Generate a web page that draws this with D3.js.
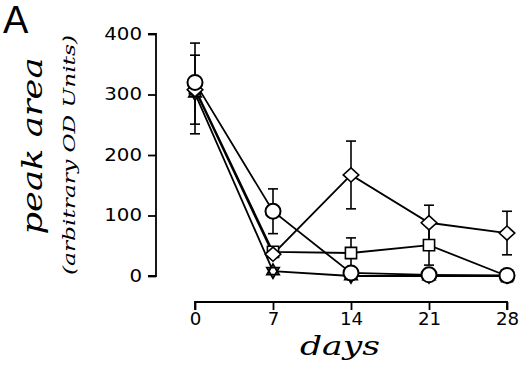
<!DOCTYPE html>
<html>
<head>
<meta charset="utf-8">
<script src="https://cdn.jsdelivr.net/npm/d3@7"></script>
<style>
  body { margin: 0; background: #fff; }
  svg { display: block; }
</style>
</head>
<body>
<div id="chart"></div>
<script>
// data
const days = [0, 7, 14, 21, 28];
const yTicks = [0, 100, 200, 300, 400];

const circleVals = [320, 107, 5, 2, 1];
const circleErr = [0, 37, 0, 10, 0];
const squareVals = [310, 40, 38, 51, 0];
const squareErr = [75, 0, 25, 33, 0];
const diamondVals = [308, 36, 167, 88, 71];
const diamondErr = [57, 0, 56, 29, 36];
const starVals = [302, 8, 0, 0, 0];
const starErr = [0, 0, 0, 0, 0];

const width = 520, height = 365;

const svg = d3.select("#chart")
    .append("svg")
    .attr("width", width)
    .attr("height", height);

// scales
const x = d3.scaleLinear().domain([0, 28]).range([195, 507]);
const y = d3.scaleLinear().domain([0, 400]).range([276, 34]);

const tickFont = "'DejaVu Sans', Verdana, sans-serif";

// y axis (offset from x axis)
svg.append("g")
    .attr("transform", "translate(156,0)")
    .call(d3.axisLeft(y).tickValues(yTicks).tickSize(8).tickPadding(6))
    .call(g => {
        g.select(".domain").attr("d", `M-8,${y(400)}H0V${y(0)}H-8`).attr("stroke-width", 1.8);
        g.selectAll(".tick line").attr("stroke-width", 1.8);
        g.selectAll(".tick text")
            .style("font-family", tickFont)
            .style("font-size", "17px")
            .attr("textLength", d => String(d).length * 12.6)
            .attr("lengthAdjust", "spacingAndGlyphs")
            .attr("fill", "#000");
    });

// x axis
svg.append("g")
    .attr("transform", "translate(0,302)")
    .call(d3.axisBottom(x).tickValues(days).tickSize(8).tickPadding(3))
    .call(g => {
        g.select(".domain").attr("d", `M${x(0)},8V0H${x(28)}V8`).attr("stroke-width", 1.8);
        g.selectAll(".tick line").attr("stroke-width", 1.8);
        g.selectAll(".tick text")
            .style("font-family", tickFont)
            .style("font-size", "17px")
            .attr("textLength", d => String(d).length * 11.6)
            .attr("lengthAdjust", "spacingAndGlyphs")
            .attr("fill", "#000");
    });

// six-pointed star (two triangles)
const hexagram = {
    draw(ctx, size) {
        const r = Math.sqrt(size) * 0.62;
        for (const rot of [0, Math.PI]) {
            for (let i = 0; i < 3; i++) {
                const a = rot - Math.PI / 2 + i * 2 * Math.PI / 3;
                const px = r * Math.cos(a), py = r * Math.sin(a);
                if (i === 0) ctx.moveTo(px, py); else ctx.lineTo(px, py);
            }
            ctx.closePath();
        }
    }
};

// diamond a little wider than d3's own
const wideDiamond = {
    draw(ctx, size) {
        const h = Math.sqrt(size) * 0.55;
        const w = h * 1.1;
        ctx.moveTo(0, -h);
        ctx.lineTo(w, 0);
        ctx.lineTo(0, h);
        ctx.lineTo(-w, 0);
        ctx.closePath();
    }
};

const series = [
    { vals: starVals, err: starErr, type: hexagram, size: 130, sw: 1.8 },
    { vals: squareVals, err: squareErr, type: d3.symbolSquare, size: 125, sw: 1.6 },
    { vals: diamondVals, err: diamondErr, type: wideDiamond, size: 165, sw: 1.6 },
    { vals: circleVals, err: circleErr, type: d3.symbolCircle, size: 177, sw: 2 }
];

const line = d3.line()
    .x((d, i) => x(days[i]))
    .y(d => y(d));

// connecting lines
series.forEach(s => {
    svg.append("path")
        .attr("d", line(s.vals))
        .attr("fill", "none")
        .attr("stroke", "#000")
        .attr("stroke-width", 1.8);
});

// error bars
series.forEach(s => {
    const g = svg.append("g").attr("stroke", "#000").attr("stroke-width", 1.6);
    s.vals.forEach((v, i) => {
        if (!s.err[i]) return;
        const cx = x(days[i]);
        const y1 = y(v + s.err[i]), y0 = y(Math.max(0, v - s.err[i]));
        g.append("line").attr("x1", cx).attr("x2", cx).attr("y1", y1).attr("y2", y0);
        g.append("line").attr("x1", cx - 5).attr("x2", cx + 5).attr("y1", y1).attr("y2", y1);
        g.append("line").attr("x1", cx - 5).attr("x2", cx + 5).attr("y1", y0).attr("y2", y0);
    });
});

// markers
series.forEach(s => {
    svg.append("g")
        .selectAll("path")
        .data(s.vals)
        .join("path")
        .attr("transform", (d, i) => `translate(${x(days[i])},${y(d)})`)
        .attr("d", d3.symbol().type(s.type).size(s.size))
        .attr("fill", "#fff")
        .attr("stroke", "#000")
        .attr("stroke-width", s.sw);
});

// axis titles
svg.append("text")
    .attr("transform", "translate(42,146) rotate(-90)")
    .attr("text-anchor", "middle")
    .attr("textLength", 177)
    .attr("lengthAdjust", "spacingAndGlyphs")
    .style("font-family", "'DejaVu Serif', serif")
    .style("font-style", "italic")
    .style("font-size", "27px")
    .text("peak area");

svg.append("text")
    .attr("transform", "translate(75,155) rotate(-90)")
    .attr("text-anchor", "middle")
    .attr("textLength", 240)
    .attr("lengthAdjust", "spacingAndGlyphs")
    .style("font-family", "'DejaVu Serif', serif")
    .style("font-style", "italic")
    .style("font-size", "17px")
    .text("(arbitrary OD Units)");

svg.append("text")
    .attr("x", 340)
    .attr("y", 355)
    .attr("text-anchor", "middle")
    .attr("textLength", 80)
    .attr("lengthAdjust", "spacingAndGlyphs")
    .style("font-family", "'DejaVu Serif', serif")
    .style("font-style", "italic")
    .style("font-size", "26px")
    .text("days");

// panel letter
svg.append("text")
    .attr("x", 3)
    .attr("y", 33)
    .style("font-family", "'Liberation Sans', Arial, sans-serif")
    .style("font-size", "38px")
    .text("A");
</script>
</body>
</html>
